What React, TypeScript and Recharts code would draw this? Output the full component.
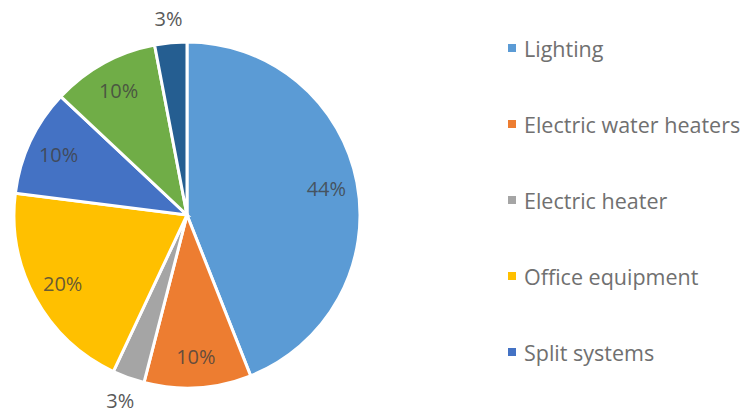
import { PieChart, Pie, Cell, Legend } from 'recharts'

const categories = [
  'Lighting',
  'Electric water heaters',
  'Electric heater',
  'Office equipment',
  'Split systems',
  'Refrigeration',
  'Other',
]
const shares = [44, 10, 3, 20, 10, 10, 3]
const COLORS = ['#5B9BD5', '#ED7D31', '#A5A5A5', '#FFC000', '#4472C4', '#70AD47', '#255E91']
// only the first five legend rows fit in the original picture
const LEGEND_ROWS = 5

const data = categories.map((name, i) => ({ name, value: shares[i] }))

const RAD = Math.PI / 180
const FONT = '"Open Sans", "Noto Sans", sans-serif'

interface LabelProps {
  cx: number
  cy: number
  midAngle: number
  outerRadius: number
  value: number
}

function renderLabel({ cx, cy, midAngle, outerRadius, value }: LabelProps) {
  const outside = value < 5
  const r = outside ? outerRadius + 24 : outerRadius * 0.82
  const x = cx + r * Math.cos(-midAngle * RAD)
  const y = cy + r * Math.sin(-midAngle * RAD)
  return (
    <text
      x={x}
      y={y}
      textAnchor="middle"
      dominantBaseline="central"
      fontFamily={FONT}
      fontSize={20}
      fill={outside ? '#595959' : '#404040'}
      fillOpacity={outside ? 1 : 0.8}
    >
      {value}%
    </text>
  )
}

function renderLegend() {
  return (
    <div style={{ fontFamily: FONT }}>
      {categories.slice(0, LEGEND_ROWS).map((name, i) => (
        <div key={name} style={{ display: 'flex', alignItems: 'center', height: 76 }}>
          <div style={{ width: 8, height: 8, backgroundColor: COLORS[i], marginRight: 8 }} />
          <span style={{ fontSize: 21.5, color: '#707070', whiteSpace: 'nowrap' }}>{name}</span>
        </div>
      ))}
    </div>
  )
}

export default function App() {
  return (
    <div style={{ position: 'absolute', left: 0, top: 0, width: 747, height: 415, overflow: 'hidden', background: '#fff' }}>
      <PieChart width={747} height={415} margin={{ top: 0, right: 0, bottom: 0, left: 0 }}>
        <Pie
          data={data}
          dataKey="value"
          nameKey="name"
          cx={187}
          cy={215}
          outerRadius={173}
          startAngle={90}
          endAngle={-270}
          stroke="#fff"
          strokeWidth={3}
          label={renderLabel}
          labelLine={false}
          isAnimationActive={false}
        >
          {data.map((d, i) => (
            <Cell key={d.name} fill={COLORS[i]} />
          ))}
        </Pie>
        <Legend
          layout="vertical"
          align="right"
          verticalAlign="top"
          content={renderLegend}
          wrapperStyle={{ left: 508, top: 10, width: 240 }}
        />
      </PieChart>
    </div>
  )
}
